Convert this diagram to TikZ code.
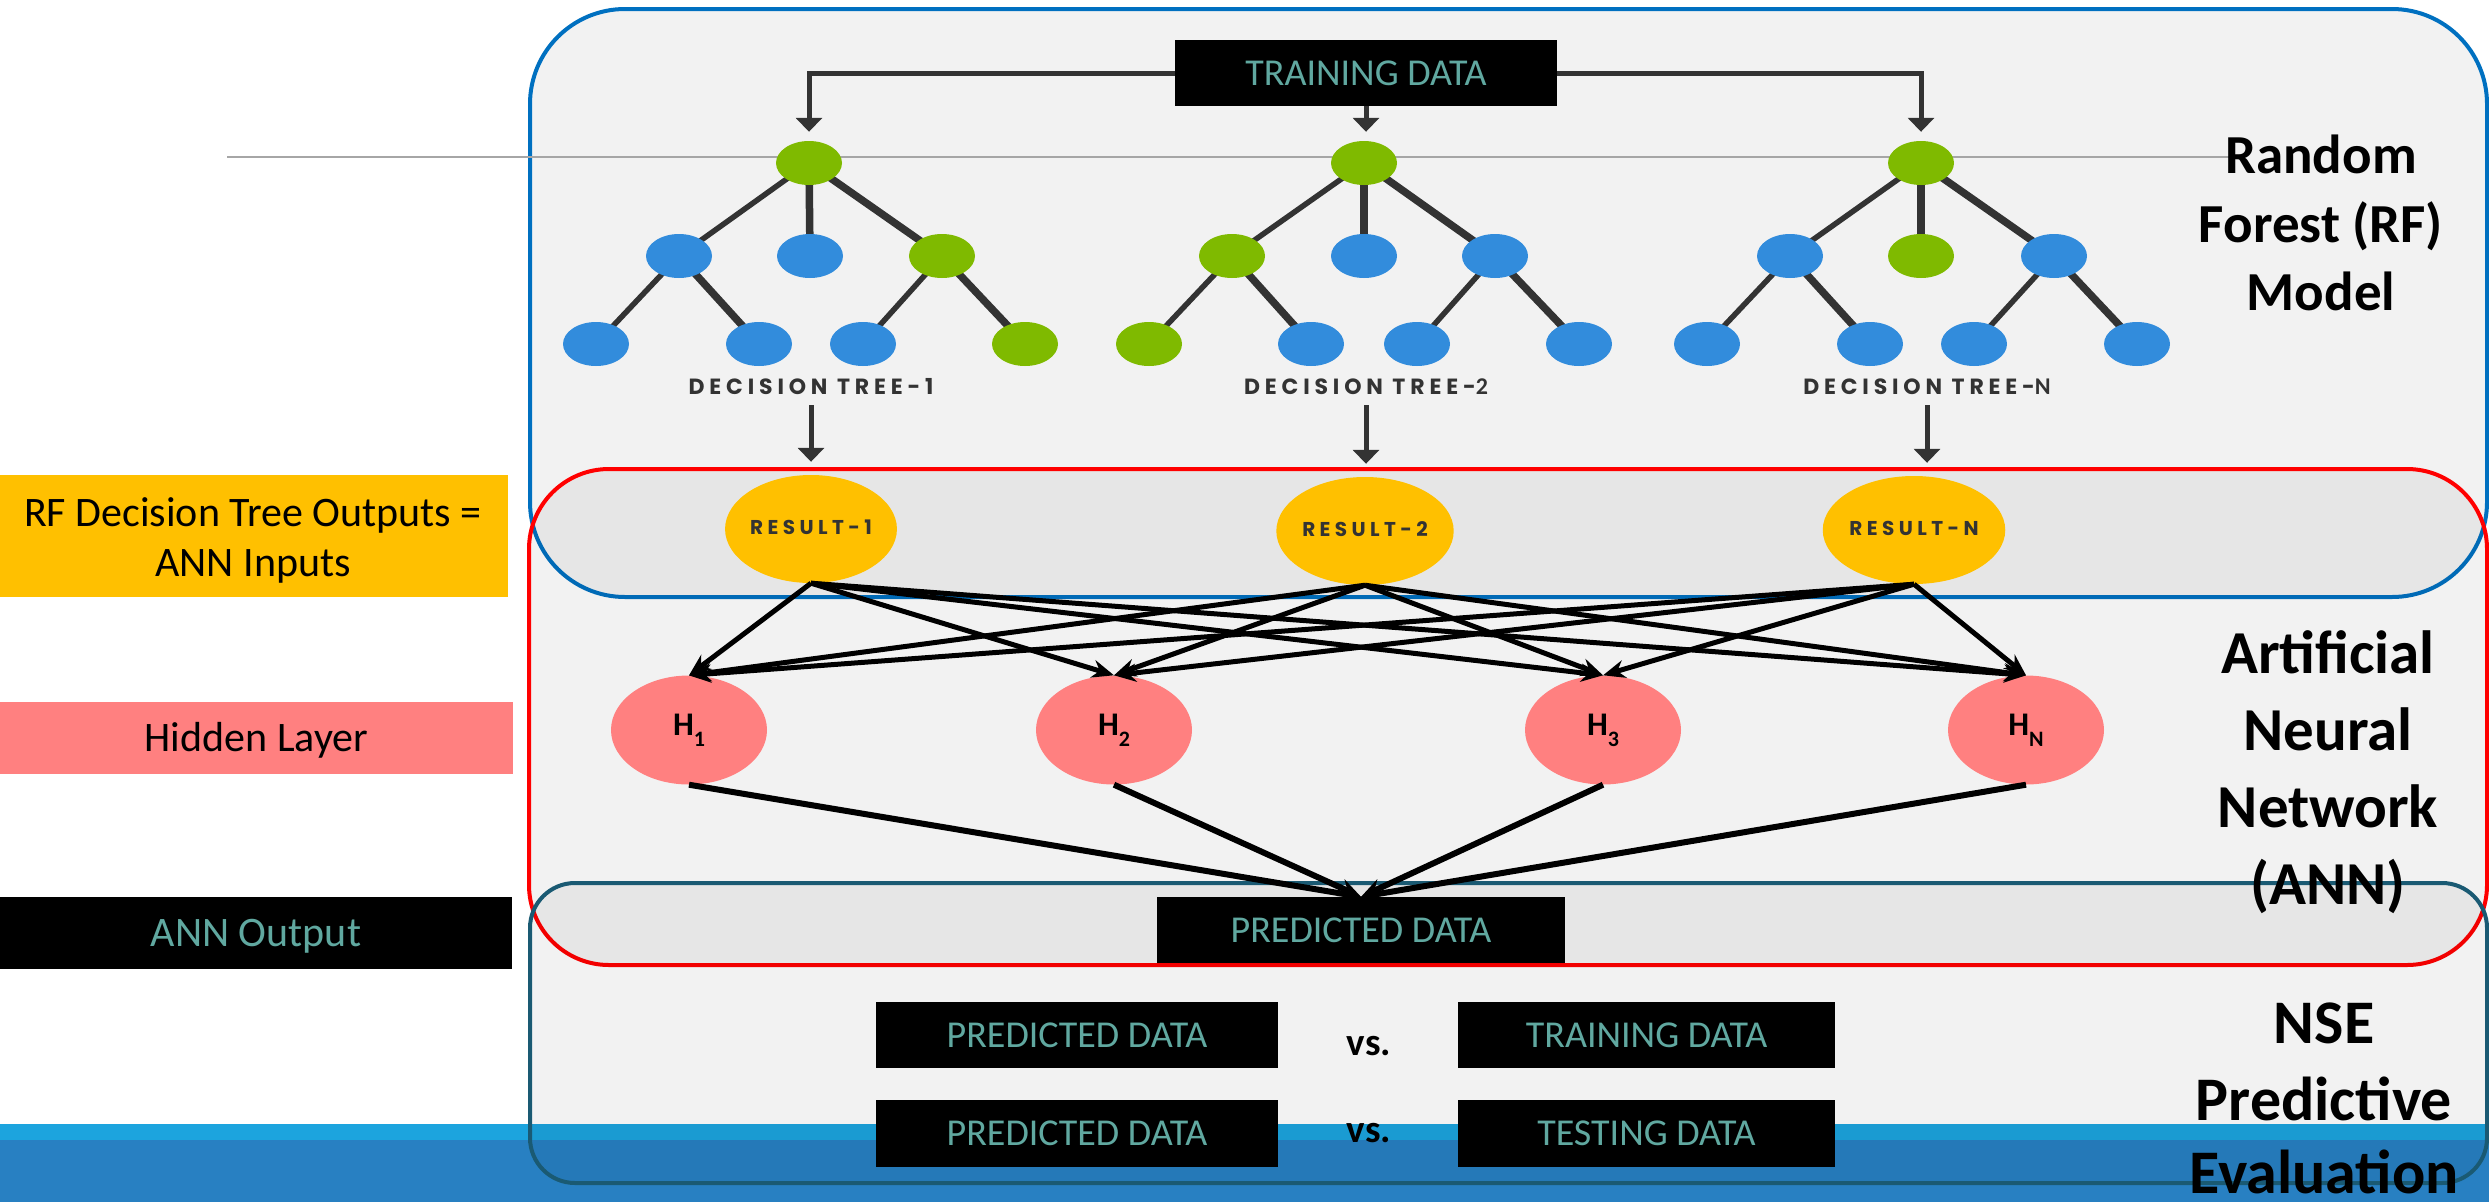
\documentclass[tikz,border=0pt]{standalone}
\usepackage{fontspec}
\setmainfont{Carlito}
\newfontfamily\geofont{Poppins}[LetterSpace=22]
\usetikzlibrary{arrows.meta,shapes.geometric}

\definecolor{rfblue}{RGB}{0,112,192}
\definecolor{annred}{RGB}{255,0,0}
\definecolor{nseteal}{RGB}{26,90,115}
\definecolor{leafgreen}{RGB}{127,186,0}
\definecolor{leafblue}{RGB}{50,140,220}
\definecolor{edgegray}{RGB}{51,51,51}
\definecolor{resyellow}{RGB}{255,192,0}
\definecolor{hidsalmon}{RGB}{255,128,128}
\definecolor{tealtext}{RGB}{96,168,160}
\definecolor{striplight}{RGB}{28,164,222}
\definecolor{stripdark}{RGB}{40,128,194}
\definecolor{rulegray}{RGB}{166,166,166}

\pgfdeclarelayer{back}
\pgfdeclarelayer{links}
\pgfsetlayers{back,links,main}

\tikzset{
  gleaf/.style={ellipse, fill=leafgreen, minimum width=66pt, minimum height=44pt, inner sep=0pt},
  bleaf/.style={gleaf, fill=leafblue},
  twig/.style={draw=edgegray, line width=5.5pt},
  twigb/.style={draw=edgegray, line width=7.5pt},
  feed/.style={draw=edgegray, line width=5pt, -{Triangle[length=14pt,width=26pt]}},
  databox/.style={fill=black, text=tealtext, inner sep=0pt, font=\fontsize{38}{38}\selectfont, text height=24pt, text depth=0pt},
  sidebox/.style={inner sep=0pt, font=\fontsize{42}{42}\selectfont, text height=27pt, text depth=0pt},
  sideline/.style={anchor=base, inner sep=0pt, font=\fontsize{42}{42}\selectfont},
  resnode/.style={ellipse, fill=resyellow, minimum width=157pt, minimum height=108pt, inner sep=0pt, text=edgegray, font=\fontsize{20}{20}\selectfont\geofont\bfseries, text height=11pt, text depth=0pt},
  hidnode/.style={ellipse, fill=hidsalmon, minimum width=156pt, minimum height=109pt, inner sep=0pt, font=\fontsize{33}{33}\selectfont\bfseries, text height=21pt, text depth=11pt},
  wire/.style={draw=black, line width=5pt, -{Stealth[length=22pt,width=18pt]}},
  fanin/.style={draw=black, line width=6pt, -{Stealth[length=22pt,width=18pt]}},
  treelab/.style={anchor=base, inner sep=0pt, text=edgegray, font=\fontsize{22}{22}\selectfont\geofont\bfseries},
  bigtitle/.style={anchor=base, inner sep=0pt, font=\fontsize{#1}{#1}\selectfont\bfseries},
  vslab/.style={anchor=base, inner sep=0pt, font=\fontsize{39}{39}\selectfont\bfseries},
  panel/.style={line width=4pt, fill=black, fill opacity=0.05},
}

\newcommand\hsub[1]{H\raisebox{-11pt}{\fontsize{22}{22}\selectfont #1}}

\begin{document}
\begin{tikzpicture}[x=1pt,y=-1pt]
\useasboundingbox (0,0) rectangle (2489,1202);

% ---------- background strip and the three panels ----------
\begin{pgfonlayer}{back}
  \fill[stripdark] (0,1140) rectangle (2489,1202);
  \fill[striplight] (0,1124) rectangle (2489,1140);
  \draw[panel, draw=rfblue, rounded corners=95pt] (530,9) rectangle (2487,597);
  \draw[panel, draw=annred, rounded corners=80pt] (529,469) rectangle (2487,965);
  \draw[panel, draw=nseteal, rounded corners=45pt] (530,883) rectangle (2487,1183);
  \coordinate (ruleL) at (227,157);
  \coordinate (ruleR) at (2230,157);
  \draw[rulegray, line width=2pt] (ruleL) -- (ruleR);
\end{pgfonlayer}

% ---------- training data and the three decision trees ----------
\node[databox, minimum width=382pt, minimum height=66pt] (train) at (1366,73) {TRAINING DATA};

\node[gleaf] (t1r) at (809,163) {};
\node[bleaf] (t1a) at (679,256) {};
\node[bleaf] (t1b) at (810,256) {};
\node[gleaf] (t1c) at (942,256) {};
\node[bleaf] (t1aa) at (596,344) {};
\node[bleaf] (t1ab) at (759,344) {};
\node[bleaf] (t1ca) at (863,344) {};
\node[gleaf] (t1cb) at (1025,344) {};

\node[gleaf] (t2r) at (1364,163) {};
\node[gleaf] (t2a) at (1232,256) {};
\node[bleaf] (t2b) at (1364,256) {};
\node[bleaf] (t2c) at (1495,256) {};
\node[gleaf] (t2aa) at (1149,344) {};
\node[bleaf] (t2ab) at (1311,344) {};
\node[bleaf] (t2ca) at (1417,344) {};
\node[bleaf] (t2cb) at (1579,344) {};

\node[gleaf] (t3r) at (1921,163) {};
\node[bleaf] (t3a) at (1790,256) {};
\node[gleaf] (t3b) at (1921,256) {};
\node[bleaf] (t3c) at (2054,256) {};
\node[bleaf] (t3aa) at (1707,344) {};
\node[bleaf] (t3ab) at (1870,344) {};
\node[bleaf] (t3ca) at (1974,344) {};
\node[bleaf] (t3cb) at (2137,344) {};

\begin{pgfonlayer}{links}
  \foreach \T in {t1,t2,t3}{
    \draw[twig]  (\T r.center) -- (\T a.center);
    \draw[twigb] (\T r.center) -- (\T b.center);
    \draw[twigb] (\T r.center) -- (\T c.center);
    \draw[twig]  (\T a.center) -- (\T aa.center);
    \draw[twigb] (\T a.center) -- (\T ab.center);
    \draw[twig]  (\T c.center) -- (\T ca.center);
    \draw[twigb] (\T c.center) -- (\T cb.center);
  }
\end{pgfonlayer}

\draw[feed, shorten >=9pt] (train.west) -| (t1r.north);
\draw[feed, shorten >=9pt] (train.south) -- (train.south |- t2r.north);
\draw[feed, shorten >=9pt] (train.east) -| (t3r.north);

\node[treelab] (lab1) at (811,394) {DECISION TREE-1};
\node[treelab] (lab2) at (1366,394) {DECISION TREE-{\fontspec{Carlito}\fontsize{24}{24}\selectfont\bfseries 2}};
\node[treelab] (lab3) at (1927,394) {DECISION TREE-{\fontspec{Carlito}\fontsize{24}{24}\selectfont N}};

% ---------- tree outputs feed the network inputs ----------
\node[resnode] (res1) at (811,529) {RESULT-1};
\node[resnode] (res2) at (1365,531) {RESULT-2};
\node[resnode] (resN) at (1914,530) {RESULT-N};

\draw[feed, shorten <=11pt, shorten >=13pt] (lab1.south) -- (lab1.south |- res1.north);
\draw[feed, shorten <=11pt, shorten >=13pt] (lab2.south) -- (lab2.south |- res2.north);
\draw[feed, shorten <=11pt, shorten >=13pt] (lab3.south) -- (lab3.south |- resN.north);

% ---------- hidden layer ----------
\node[hidnode] (h1) at (689,730) {\hsub{1}};
\node[hidnode] (h2) at (1114,730) {\hsub{2}};
\node[hidnode] (h3) at (1603,730) {\hsub{3}};
\node[hidnode] (hN) at (2026,730) {\hsub{N}};

\foreach \R in {res1,res2,resN}
  \foreach \H in {h1,h2,h3,hN}
    \draw[wire] (\R.south) -- (\H.north);

% ---------- network output ----------
\node[databox, minimum width=408pt, minimum height=66pt] (predA) at (1361,930) {PREDICTED DATA};
\foreach \H in {h1,h2,h3,hN}
  \draw[fanin] (\H.south) -- (predA.north);

% ---------- evaluation pairs ----------
\node[databox, minimum width=402pt, minimum height=66pt] (predB) at (1077,1035) {PREDICTED DATA};
\node[databox, minimum width=377pt, minimum height=66pt] (trainB) at (1646.5,1035) {TRAINING DATA};
\node[databox, minimum width=402pt, minimum height=67pt] (predC) at (1077,1133.5) {PREDICTED DATA};
\node[databox, minimum width=377pt, minimum height=67pt] (testC) at (1646.5,1133.5) {TESTING DATA};
\node[vslab] (vs1) at (1369,1055) {vs.};
\node[vslab] (vs2) at (1369,1142) {vs.};

% ---------- legend boxes on the left ----------
\node[fill=resyellow, minimum width=508pt, minimum height=122pt, inner sep=0pt] (legin) at (254,536) {};
\node[sideline] (legin1) at (253,526) {RF Decision Tree Outputs =};
\node[sideline] (legin2) at (253,576) {ANN Inputs};
\node[sidebox, fill=hidsalmon, minimum width=513pt, minimum height=72pt] (leghid) at (256.5,738) {Hidden Layer};
\node[sidebox, fill=black, text=tealtext, minimum width=512pt, minimum height=72pt] (legout) at (256,933) {ANN Output};

% ---------- section titles on the right ----------
\node[bigtitle=55] (rf1) at (2321,173) {Random};
\node[bigtitle=55] (rf2) at (2321,242) {Forest (RF)};
\node[bigtitle=55] (rf3) at (2321,310) {Model};

\node[bigtitle=61] (an1) at (2328,673) {Artificial};
\node[bigtitle=61] (an2) at (2328,750) {Neural};
\node[bigtitle=61] (an3) at (2328,827) {Network};
\node[bigtitle=61] (an4) at (2328,904) {(ANN)};

\node[bigtitle=62] (ns1) at (2324,1043) {NSE};
\node[bigtitle=62] (ns2) at (2324,1120) {Predictive};
\node[bigtitle=62] (ns3) at (2324,1193) {Evaluation};
\end{tikzpicture}
\end{document}
